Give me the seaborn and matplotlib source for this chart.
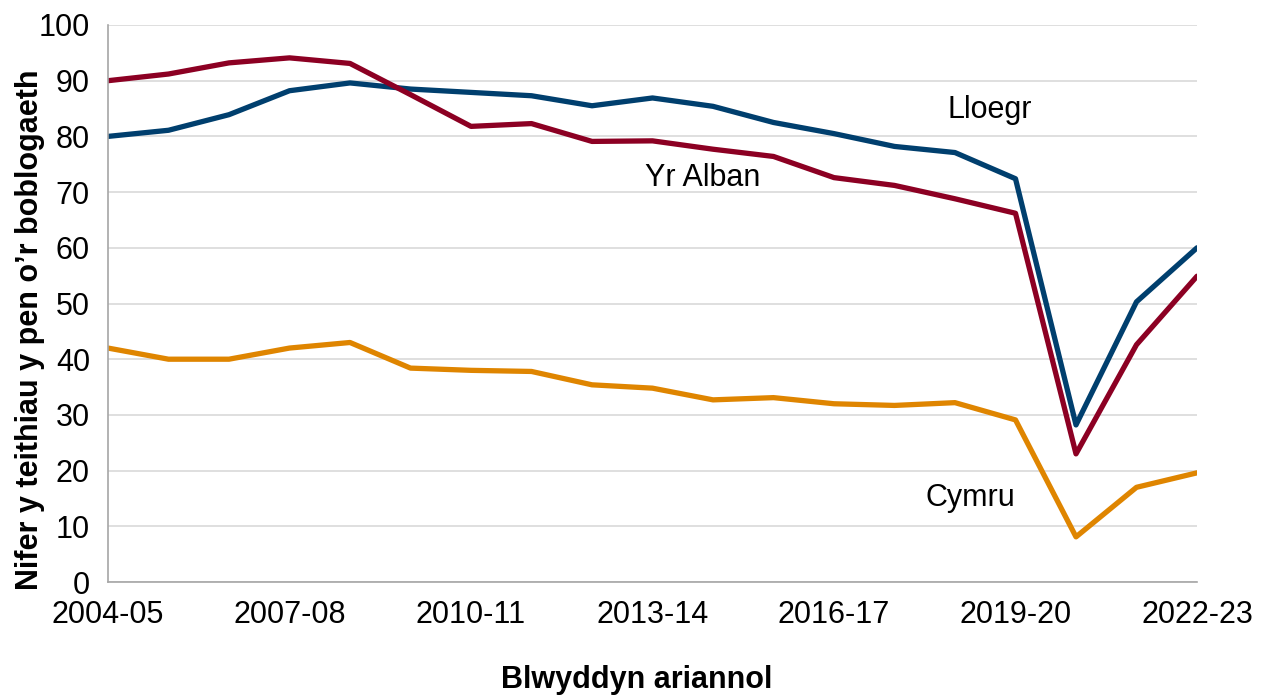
import pandas as pd
import seaborn as sns
import matplotlib.pyplot as plt

# financial years shown on the x axis
years = ['2004-05', '2005-06', '2006-07', '2007-08', '2008-09', '2009-10',
         '2010-11', '2011-12', '2012-13', '2013-14', '2014-15', '2015-16',
         '2016-17', '2017-18', '2018-19', '2019-20', '2020-21', '2021-22',
         '2022-23']

# journeys per head of population
lloegr = [80.0, 81.1, 83.9, 88.2, 89.6, 88.5, 87.9, 87.3, 85.5, 86.9,
          85.4, 82.5, 80.5, 78.2, 77.1, 72.4, 28.2, 50.3, 60.0]
yr_alban = [90.0, 91.2, 93.2, 94.1, 93.1, 87.5, 81.8, 82.3, 79.1, 79.2,
            77.7, 76.4, 72.6, 71.2, 68.8, 66.2, 23.0, 42.6, 54.9]
cymru = [42.0, 40.0, 40.0, 42.0, 43.0, 38.4, 38.0, 37.8, 35.4, 34.8,
         32.7, 33.1, 32.0, 31.7, 32.2, 29.1, 8.1, 17.0, 19.6]

series_names = ['Lloegr', 'Yr Alban', 'Cymru']
colours = ['#003F6E', '#8C0023', '#DF8500']

rows = []
for name, vals in zip(series_names, [lloegr, yr_alban, cymru]):
    for i, v in enumerate(vals):
        rows.append({'idx': i, 'value': v, 'series': name})
df = pd.DataFrame(rows)

sns.set_style('white')
plt.rcParams['font.family'] = ['Liberation Sans', 'DejaVu Sans']
plt.rcParams['text.color'] = 'black'

fig = plt.figure(figsize=(12.63, 6.95), dpi=100)
ax = fig.add_axes([108 / 1263, 113 / 695, 1089 / 1263, 557 / 695])

sns.lineplot(data=df, x='idx', y='value', hue='series',
             hue_order=series_names, palette=colours, linewidth=3.8,
             legend=False, ax=ax)

ax.set_xlim(0, len(years) - 1)
ax.set_ylim(0, 100)
ax.set_yticks(range(0, 101, 10))
ax.set_xticks(range(len(years)))
ax.set_xticklabels([y if i % 3 == 0 else '' for i, y in enumerate(years)])

ax.grid(axis='y', color='#D9D9D9', linewidth=1.2)
ax.set_axisbelow(True)
for side in ['top', 'right']:
    ax.spines[side].set_visible(False)
for side in ['left', 'bottom']:
    ax.spines[side].set_color('#A6A6A6')
    ax.spines[side].set_linewidth(1.2)
ax.tick_params(axis='both', direction='out', length=8, width=1.2,
               color='#A6A6A6', labelsize=22, labelcolor='black', pad=5)

ax.set_xlabel('')
ax.set_ylabel('')
fig.text(30 / 1263, 1 - 330 / 695, 'Nifer y teithiau y pen o’r boblogaeth',
         rotation=90, ha='center', va='center', fontsize=22,
         fontweight='bold', color='black')
fig.text(637 / 1263, 1 - 680 / 695, 'Blwyddyn ariannol', ha='center',
         va='center', fontsize=22, fontweight='bold', color='black')

# series labels placed next to their lines
ax.text(14.58, 84.7, 'Lloegr', ha='center', va='center', fontsize=22,
        color='black')
ax.text(9.83, 72.5, 'Yr Alban', ha='center', va='center', fontsize=22,
        color='black')
ax.text(14.25, 15.1, 'Cymru', ha='center', va='center', fontsize=22,
        color='black')

plt.savefig('out.png', dpi=100)
